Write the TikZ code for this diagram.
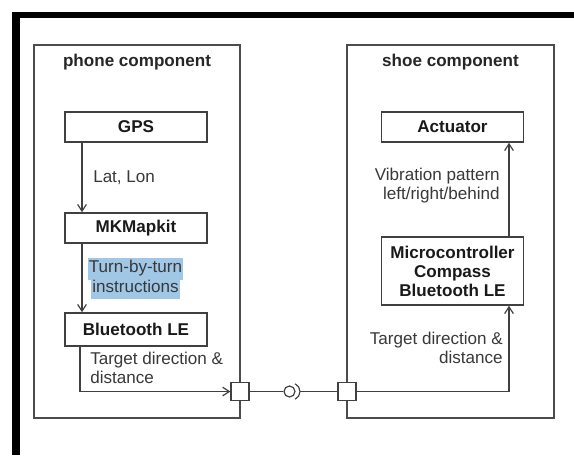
\documentclass[tikz,border=0pt]{standalone}
\usepackage{fontspec}
\setmainfont{Liberation Sans}
\usepackage{xcolor}
\usetikzlibrary{arrows.meta,positioning}
\definecolor{hlblue}{RGB}{160,200,230}
\setlength{\fboxsep}{1pt}

\begin{document}
\begin{tikzpicture}[
  x=0.75pt, y=-0.75pt,
  every node/.style={font=\fontsize{12.8}{14.2}\selectfont},
  comp/.style={draw=black!70, line width=1.2pt, minimum height=279.75pt, inner sep=0pt},
  title/.style={font=\fontsize{12.8}{14.2}\selectfont\bfseries, text=black!85},
  box/.style={draw=black!75, line width=1.2pt, minimum width=106.5pt, minimum height=22.5pt,
              align=center, inner sep=2pt, text=black!90,
              font=\fontsize{12.8}{14.2}\selectfont\bfseries},
  lbl/.style={text=black!78, inner sep=0pt},
  port/.style={draw=black!75, fill=white, line width=0.9pt, minimum size=13.5pt, inner sep=0pt},
  arr/.style={-{Straight Barb[length=5pt,width=6.5pt]}, black!75, line width=0.9pt},
  wire/.style={black!75, line width=0.9pt},
]
\useasboundingbox (0,0) rectangle (574,455);
\fill[black] (12,12) rectangle (574,18);
\fill[black] (12,12) rectangle (20,455);

\node[comp, minimum width=154.5pt] (phone) at (137,231.5) {};
\node[comp, minimum width=155.25pt] (shoe) at (450.5,231.5) {};
\node[title] (phonetitle) at (137,62) {phone component};
\node[title] (shoetitle) at (450.5,62) {shoe component};

\node[box] (gps) at (136,127) {GPS};
\node[box] (mkmap) at (136,228) {MKMapkit};
\node[box, minimum height=24.75pt] (ble) at (136,329.5) {Bluetooth LE};
\node[box] (actuator) at (452.5,127) {Actuator};
\node[box, minimum height=51pt] (mcu) at (452.5,271) {Microcontroller\\Compass\\Bluetooth LE};

\node[port] (pleft) at (240,391.5) {};
\node[port] (pright) at (347,391.5) {};
\node[draw=black!75, line width=0.9pt, circle, minimum size=8.25pt, inner sep=0pt] (ball) at (289.5,391.5) {};
\coordinate (sock) at (300,391.5);

\coordinate (lx) at (82,0);
\coordinate (bx) at (80,0);
\coordinate (rx) at (509,0);

\draw[arr] (gps.south -| lx) -- (mkmap.north -| lx);
\draw[arr] (mkmap.south -| lx) -- (ble.north -| lx);
\draw[arr] (ble.south -| bx) |- (pleft.west);
\draw[wire] (pleft.east) -- (ball.west);
\draw[wire] (sock) arc (0:65:8.5);
\draw[wire] (sock) arc (0:-65:8.5);
\draw[wire] (sock) -- (pright.west);
\draw[arr] (pright.east) -| (mcu.south -| rx);
\draw[arr] (mcu.north -| rx) -- (actuator.south -| rx);

\node[lbl, anchor=west] (latlon) at (93,178) {Lat, Lon};
\node[lbl, align=center] (turn) at (135.5,278.5)
  {\colorbox{hlblue}{\strut Turn-by-turn}\\[-2.6pt]\colorbox{hlblue}{\strut instructions}};
\node[lbl, anchor=west, align=left] (tdleft) at (90,368) {Target direction \&\\distance};
\node[lbl, anchor=east, align=right] (tdright) at (503,347.5) {Target direction \&\\distance};
\node[lbl, anchor=east, align=right] (vib) at (500,186) {Vibration pattern\\left/right/behind};
\end{tikzpicture}
\end{document}
